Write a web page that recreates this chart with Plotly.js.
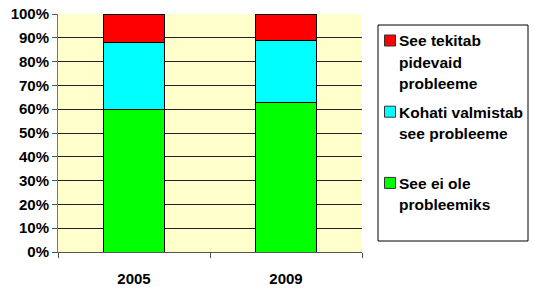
<!DOCTYPE html>
<html>
<head>
<meta charset="utf-8">
<script src="https://cdn.plot.ly/plotly-3.0.1.min.js"></script>
<style>html,body{margin:0;padding:0;background:#fff;}#chart{width:533px;height:291px;}</style>
</head>
<body>
<div id="chart"></div>
<script>
var years = ['2005', '2009'];
var seriesNames = [
  'See ei ole<br>probleemiks',
  'Kohati valmistab<br>see probleeme',
  'See tekitab<br>pidevaid<br>probleeme'
];
var noProblem = [60, 63];
var sometimes = [28, 26];
var constant = [12, 11];
var colors = ['#00FF00', '#00FFFF', '#FF0000'];
var yTickVals = [0, 10, 20, 30, 40, 50, 60, 70, 80, 90, 100];
var yTickText = ['0%', '10%', '20%', '30%', '40%', '50%', '60%', '70%', '80%', '90%', '100%'];

var values = [noProblem, sometimes, constant];
var traces = values.map(function (v, i) {
  return {
    type: 'bar', x: years, y: v, name: seriesNames[i],
    width: 0.4, showlegend: false,
    marker: { color: colors[i], line: { color: '#000', width: 1 } },
    hoverinfo: 'none'
  };
});

var W = 533, H = 291, L = 58, R = 362, T = 14, B = 252;
function px(x) { return (x - L) / (R - L); }
function py(y) { return (B - y) / (B - T); }

// legend drawn with shapes + annotations (legend order: top series first)
var shapes = [{
  type: 'rect', xref: 'paper', yref: 'paper',
  x0: px(378), x1: px(528), y0: py(241), y1: py(25),
  line: { color: '#000', width: 1 }, fillcolor: 'rgba(0,0,0,0)'
}];
var annotations = [];
var slotTop = 45.7, slotStep = 71.2, lineStep = 21.4;
for (var k = 0; k < seriesNames.length; k++) {
  var i = seriesNames.length - 1 - k;
  var base = slotTop + k * slotStep;
  var cy = base - 5.2;
  shapes.push({
    type: 'rect', xref: 'paper', yref: 'paper',
    x0: px(384.5), x1: px(395.5), y0: py(cy + 5.5), y1: py(cy - 5.5),
    line: { color: '#333', width: 1 }, fillcolor: colors[i]
  });
  var lines = seriesNames[i].split('<br>');
  for (var j = 0; j < lines.length; j++) {
    annotations.push({
      xref: 'paper', yref: 'paper', x: px(397), y: py(base + j * lineStep - 4.8),
      xanchor: 'left', yanchor: 'middle', showarrow: false, text: lines[j],
      font: { size: 15.5, weight: 'bold', color: '#000' }
    });
  }
}

var layout = {
  width: W, height: H,
  margin: { l: L, r: W - R, t: T, b: H - B, pad: 0 },
  paper_bgcolor: '#ffffff',
  plot_bgcolor: '#FFFFCC',
  barmode: 'stack',
  font: { family: 'Liberation Sans, Arial, sans-serif', size: 15, color: '#000', weight: 'bold' },
  xaxis: {
    type: 'category', showgrid: false, ticks: 'outside', tickson: 'boundaries',
    ticklen: 5, tickcolor: '#555', showline: true, linecolor: '#555', linewidth: 1,
    tickfont: { size: 15, weight: 'bold' }, ticklabelstandoff: 13, fixedrange: true
  },
  yaxis: {
    range: [0, 100], tickvals: yTickVals, ticktext: yTickText,
    showgrid: true, gridcolor: '#222', gridwidth: 1,
    ticks: 'outside', ticklen: 5, tickcolor: '#555',
    showline: true, linecolor: '#777', linewidth: 1, zeroline: false,
    tickfont: { size: 15, weight: 'bold' }, fixedrange: true
  },
  showlegend: false,
  shapes: shapes,
  annotations: annotations
};

Plotly.newPlot('chart', traces, layout, { displayModeBar: false, staticPlot: true });
</script>
</body>
</html>
